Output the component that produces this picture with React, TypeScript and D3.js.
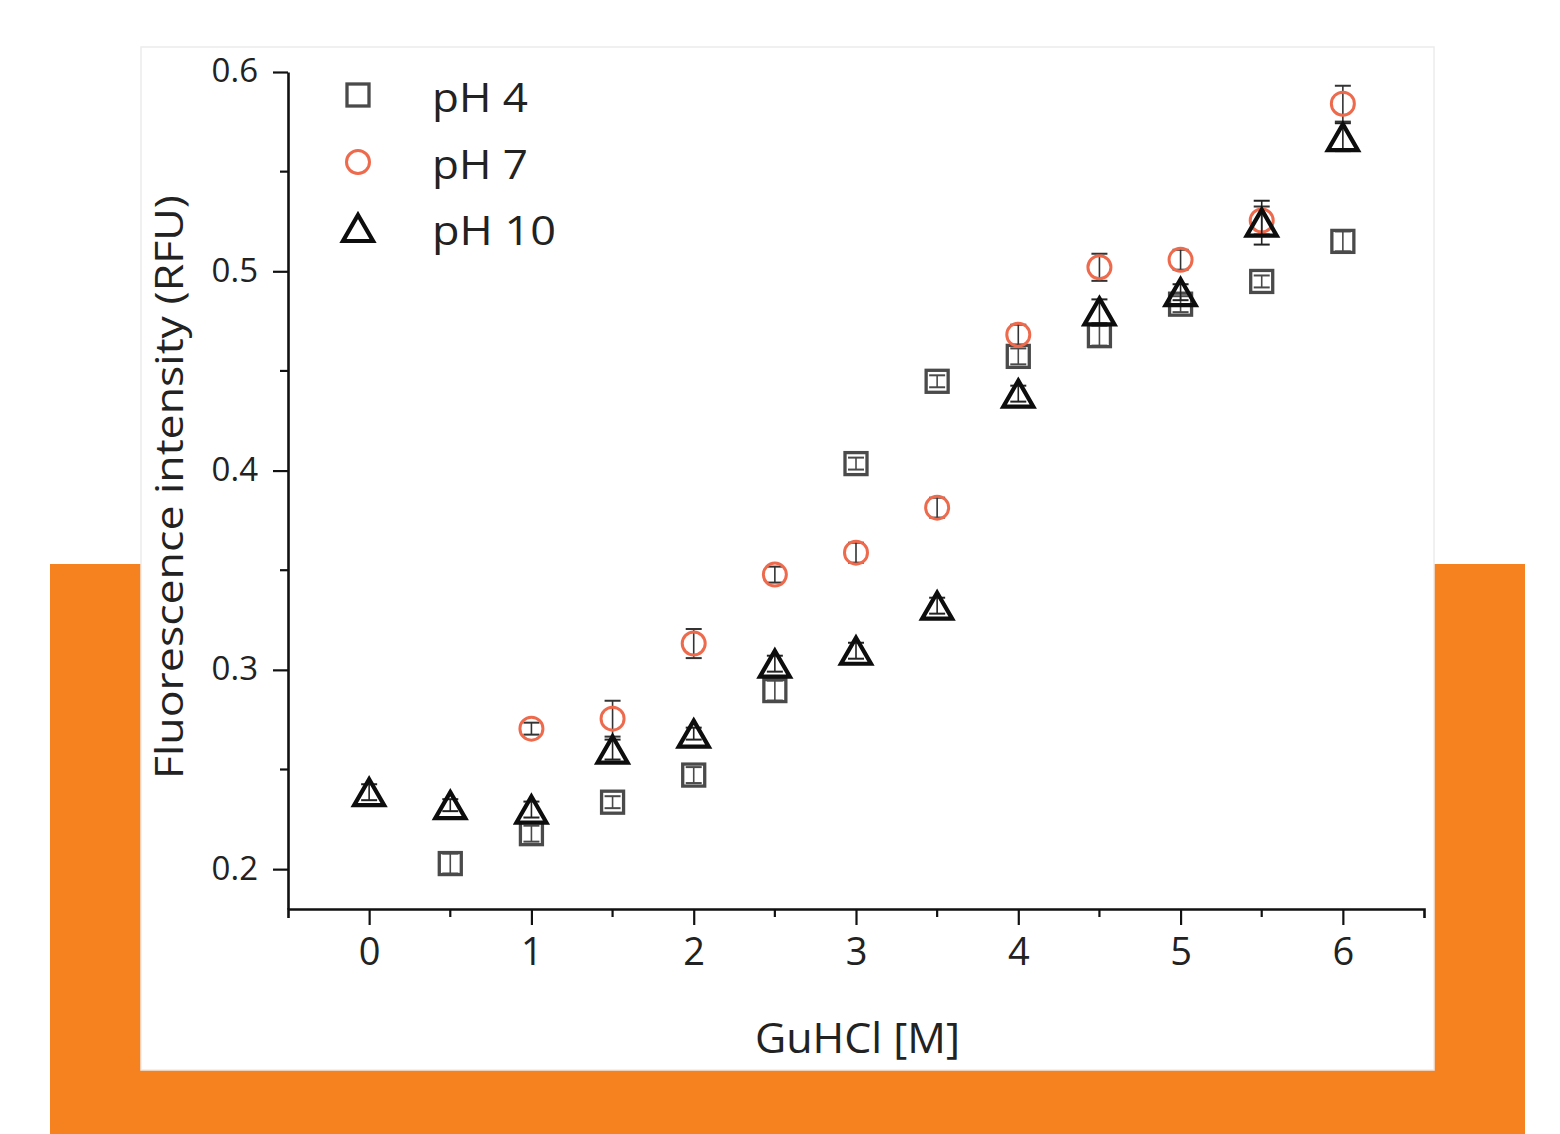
import React, { useRef, useEffect } from "react";
import * as d3 from "d3";

// GuHCl denaturation – fluorescence read-out at three pH values
const ph4X = [0.5, 1, 1.5, 2, 2.5, 3, 3.5, 4, 4.5, 5, 5.5, 6];
const ph4Y = [0.2028, 0.2178, 0.2336, 0.2472, 0.2896, 0.4035, 0.4448, 0.4573, 0.4677, 0.4835, 0.4949, 0.515];
const ph4Err = [0.005, 0.004, 0.003, 0.004, 0.005, 0.003, 0.003, 0.004, 0.005, 0.004, 0.003, 0.005];

const ph7X = [1, 1.5, 2, 2.5, 3, 3.5, 4, 4.5, 5, 5.5, 6];
const ph7Y = [0.2705, 0.2755, 0.3132, 0.3478, 0.3588, 0.3814, 0.4682, 0.502, 0.5058, 0.5255, 0.5841];
const ph7Err = [0.003, 0.009, 0.0073, 0.004, 0.005, 0.005, 0.005, 0.0068, 0.005, 0.007, 0.009];

const ph10X = [0, 0.5, 1, 1.5, 2, 2.5, 3, 3.5, 4, 4.5, 5, 5.5, 6];
const ph10Y = [0.2386, 0.2321, 0.2299, 0.26, 0.268, 0.3031, 0.3096, 0.3322, 0.4386, 0.4799, 0.4895, 0.5244, 0.5673];
const ph10Err = [0.004, 0.003, 0.004, 0.005, 0.003, 0.004, 0.004, 0.004, 0.004, 0.006, 0.004, 0.011, 0.007];

const seriesNames = ["pH 4", "pH 7", "pH 10"];
const xTicks = [0, 1, 2, 3, 4, 5, 6];
const xMinorTicks = [0.5, 1.5, 2.5, 3.5, 4.5, 5.5];
const yTicks = [0.2, 0.3, 0.4, 0.5, 0.6];
const yMinorTicks = [0.25, 0.35, 0.45, 0.55];

const W = 1560;
const H = 1134;
const FONT = "'Open Sans', 'Noto Sans', sans-serif";

type Pt = { x: number; y: number; e: number };

const zip = (xs: number[], ys: number[], es: number[]): Pt[] =>
  xs.map((x, i) => ({ x, y: ys[i], e: es[i] }));

export default function App() {
  const svgRef = useRef<SVGSVGElement | null>(null);

  useEffect(() => {
    document.body.style.margin = "0";
    const svg = d3.select(svgRef.current);
    svg.selectAll("*").remove();

    // background: orange band + white panel
    svg.append("rect").attr("width", W).attr("height", H).attr("fill", "#fff");
    svg
      .append("rect")
      .attr("x", 50)
      .attr("y", 564)
      .attr("width", 1475)
      .attr("height", 570)
      .attr("fill", "#f5821f");
    svg
      .append("rect")
      .attr("x", 141)
      .attr("y", 47)
      .attr("width", 1293)
      .attr("height", 1023)
      .attr("fill", "#fff")
      .attr("stroke", "#ececec")
      .attr("stroke-width", 1.5);

    const x = d3.scaleLinear().domain([-0.5, 6.5]).range([288, 1424]);
    const y = d3.scaleLinear().domain([0.18, 0.6]).range([909, 72]);
    const x0 = 288;
    const yb = 909;

    const g = svg.append("g");

    // y axis
    const yAx = g.append("g").attr("transform", `translate(${x0},0)`);
    yAx
      .call(d3.axisLeft(y).tickValues(yTicks).tickSize(15).tickSizeOuter(0).tickFormat(d3.format(".1f")))
      .call((s) => s.selectAll("line").attr("stroke", "#111").attr("stroke-width", 2.2))
      .call((s) => s.select(".domain").attr("stroke", "#111").attr("stroke-width", 2.6))
      .call((s) =>
        s
          .selectAll("text")
          .attr("font-family", FONT)
          .attr("font-size", 33)
          .attr("fill", "#222")
          .attr("x", -30)
          .attr("dy", "0.3em")
      );
    yAx
      .selectAll(".minor")
      .data(yMinorTicks)
      .join("line")
      .attr("x1", -8)
      .attr("x2", 0)
      .attr("y1", (d) => y(d))
      .attr("y2", (d) => y(d))
      .attr("stroke", "#111")
      .attr("stroke-width", 2.2);

    // x axis
    const xAx = g.append("g").attr("transform", `translate(0,${yb})`);
    xAx
      .call(d3.axisBottom(x).tickValues(xTicks).tickSize(16).tickSizeOuter(9).tickFormat(d3.format("d")))
      .call((s) => s.selectAll("line").attr("stroke", "#111").attr("stroke-width", 2.2))
      .call((s) => s.select(".domain").attr("stroke", "#111").attr("stroke-width", 2.6))
      .call((s) =>
        s
          .selectAll("text")
          .attr("font-family", FONT)
          .attr("font-size", 38)
          .attr("fill", "#222")
          .attr("y", 0)
          .attr("dy", 0)
          .attr("transform", "translate(0,56)")
      );
    xAx
      .selectAll(".minor")
      .data(xMinorTicks)
      .join("line")
      .attr("x1", (d) => x(d))
      .attr("x2", (d) => x(d))
      .attr("y1", 0)
      .attr("y2", 8)
      .attr("stroke", "#111")
      .attr("stroke-width", 2.2);

    // axis titles
    svg
      .append("text")
      .attr("x", 755)
      .attr("y", 1053)
      .attr("font-family", FONT)
      .attr("font-size", 42)
      .attr("fill", "#222")
      .attr("textLength", 205)
      .attr("lengthAdjust", "spacingAndGlyphs")
      .text("GuHCl [M]");

    svg
      .append("text")
      .attr("transform", "translate(183,487) rotate(-90)")
      .attr("text-anchor", "middle")
      .attr("font-family", FONT)
      .attr("font-size", 39)
      .attr("fill", "#222")
      .attr("textLength", 584)
      .attr("lengthAdjust", "spacingAndGlyphs")
      .text("Fluorescence intensity (RFU)");

    // marker shapes
    const triPath = "M0,-13L15,13L-15,13Z";
    const drawMarker = (sel: any, kind: string) => {
      if (kind === "square") {
        sel
          .append("rect")
          .attr("x", -11)
          .attr("y", -11)
          .attr("width", 22)
          .attr("height", 22)
          .attr("fill", "none")
          .attr("stroke", "#4a4a4a")
          .attr("stroke-width", 3.3);
      } else if (kind === "circle") {
        sel
          .append("circle")
          .attr("r", 11.5)
          .attr("fill", "none")
          .attr("stroke", "#ee6a4d")
          .attr("stroke-width", 3);
      } else {
        sel
          .append("path")
          .attr("d", triPath)
          .attr("fill", "none")
          .attr("stroke", "#0d0d0d")
          .attr("stroke-width", 4.2)
          .attr("stroke-linejoin", "miter");
      }
    };

    const series = [
      { data: zip(ph4X, ph4Y, ph4Err), kind: "square", color: "#4a4a4a" },
      { data: zip(ph7X, ph7Y, ph7Err), kind: "circle", color: "#333" },
      { data: zip(ph10X, ph10Y, ph10Err), kind: "triangle", color: "#222" },
    ];

    const plot = g.append("g");
    series.forEach((s) => {
      const sg = plot.append("g");
      // error bars
      const eb = sg
        .selectAll(".eb")
        .data(s.data)
        .join("g")
        .attr("transform", (d) => `translate(${x(d.x)},0)`);
      eb.append("line")
        .attr("y1", (d) => y(d.y - d.e))
        .attr("y2", (d) => y(d.y + d.e))
        .attr("stroke", s.color)
        .attr("stroke-width", 1.6);
      eb.append("line")
        .attr("x1", -8)
        .attr("x2", 8)
        .attr("y1", (d) => y(d.y + d.e))
        .attr("y2", (d) => y(d.y + d.e))
        .attr("stroke", s.color)
        .attr("stroke-width", 2);
      eb.append("line")
        .attr("x1", -8)
        .attr("x2", 8)
        .attr("y1", (d) => y(d.y - d.e))
        .attr("y2", (d) => y(d.y - d.e))
        .attr("stroke", s.color)
        .attr("stroke-width", 2);
      // markers
      sg.selectAll(".pt")
        .data(s.data)
        .join("g")
        .attr("transform", (d) => `translate(${x(d.x)},${y(d.y)})`)
        .each(function () {
          drawMarker(d3.select(this), s.kind);
        });
    });

    // legend
    const legend = svg.append("g");
    const legendKinds = ["square", "circle", "triangle"];
    const legendY = [95, 162, 228];
    const legendTextLen = [96, 96, 124];
    legendKinds.forEach((k, i) => {
      const m = legend.append("g").attr("transform", `translate(358,${legendY[i]})`);
      drawMarker(m, k);
      legend
        .append("text")
        .attr("x", 432)
        .attr("y", legendY[i] + 17)
        .attr("font-family", FONT)
        .attr("font-size", 40)
        .attr("fill", "#222")
        .attr("textLength", legendTextLen[i])
        .attr("lengthAdjust", "spacingAndGlyphs")
        .text(seriesNames[i]);
    });
  }, []);

  return (
    <svg
      ref={svgRef}
      width={W}
      height={H}
      style={{ display: "block", position: "absolute", left: 0, top: 0 }}
    />
  );
}
